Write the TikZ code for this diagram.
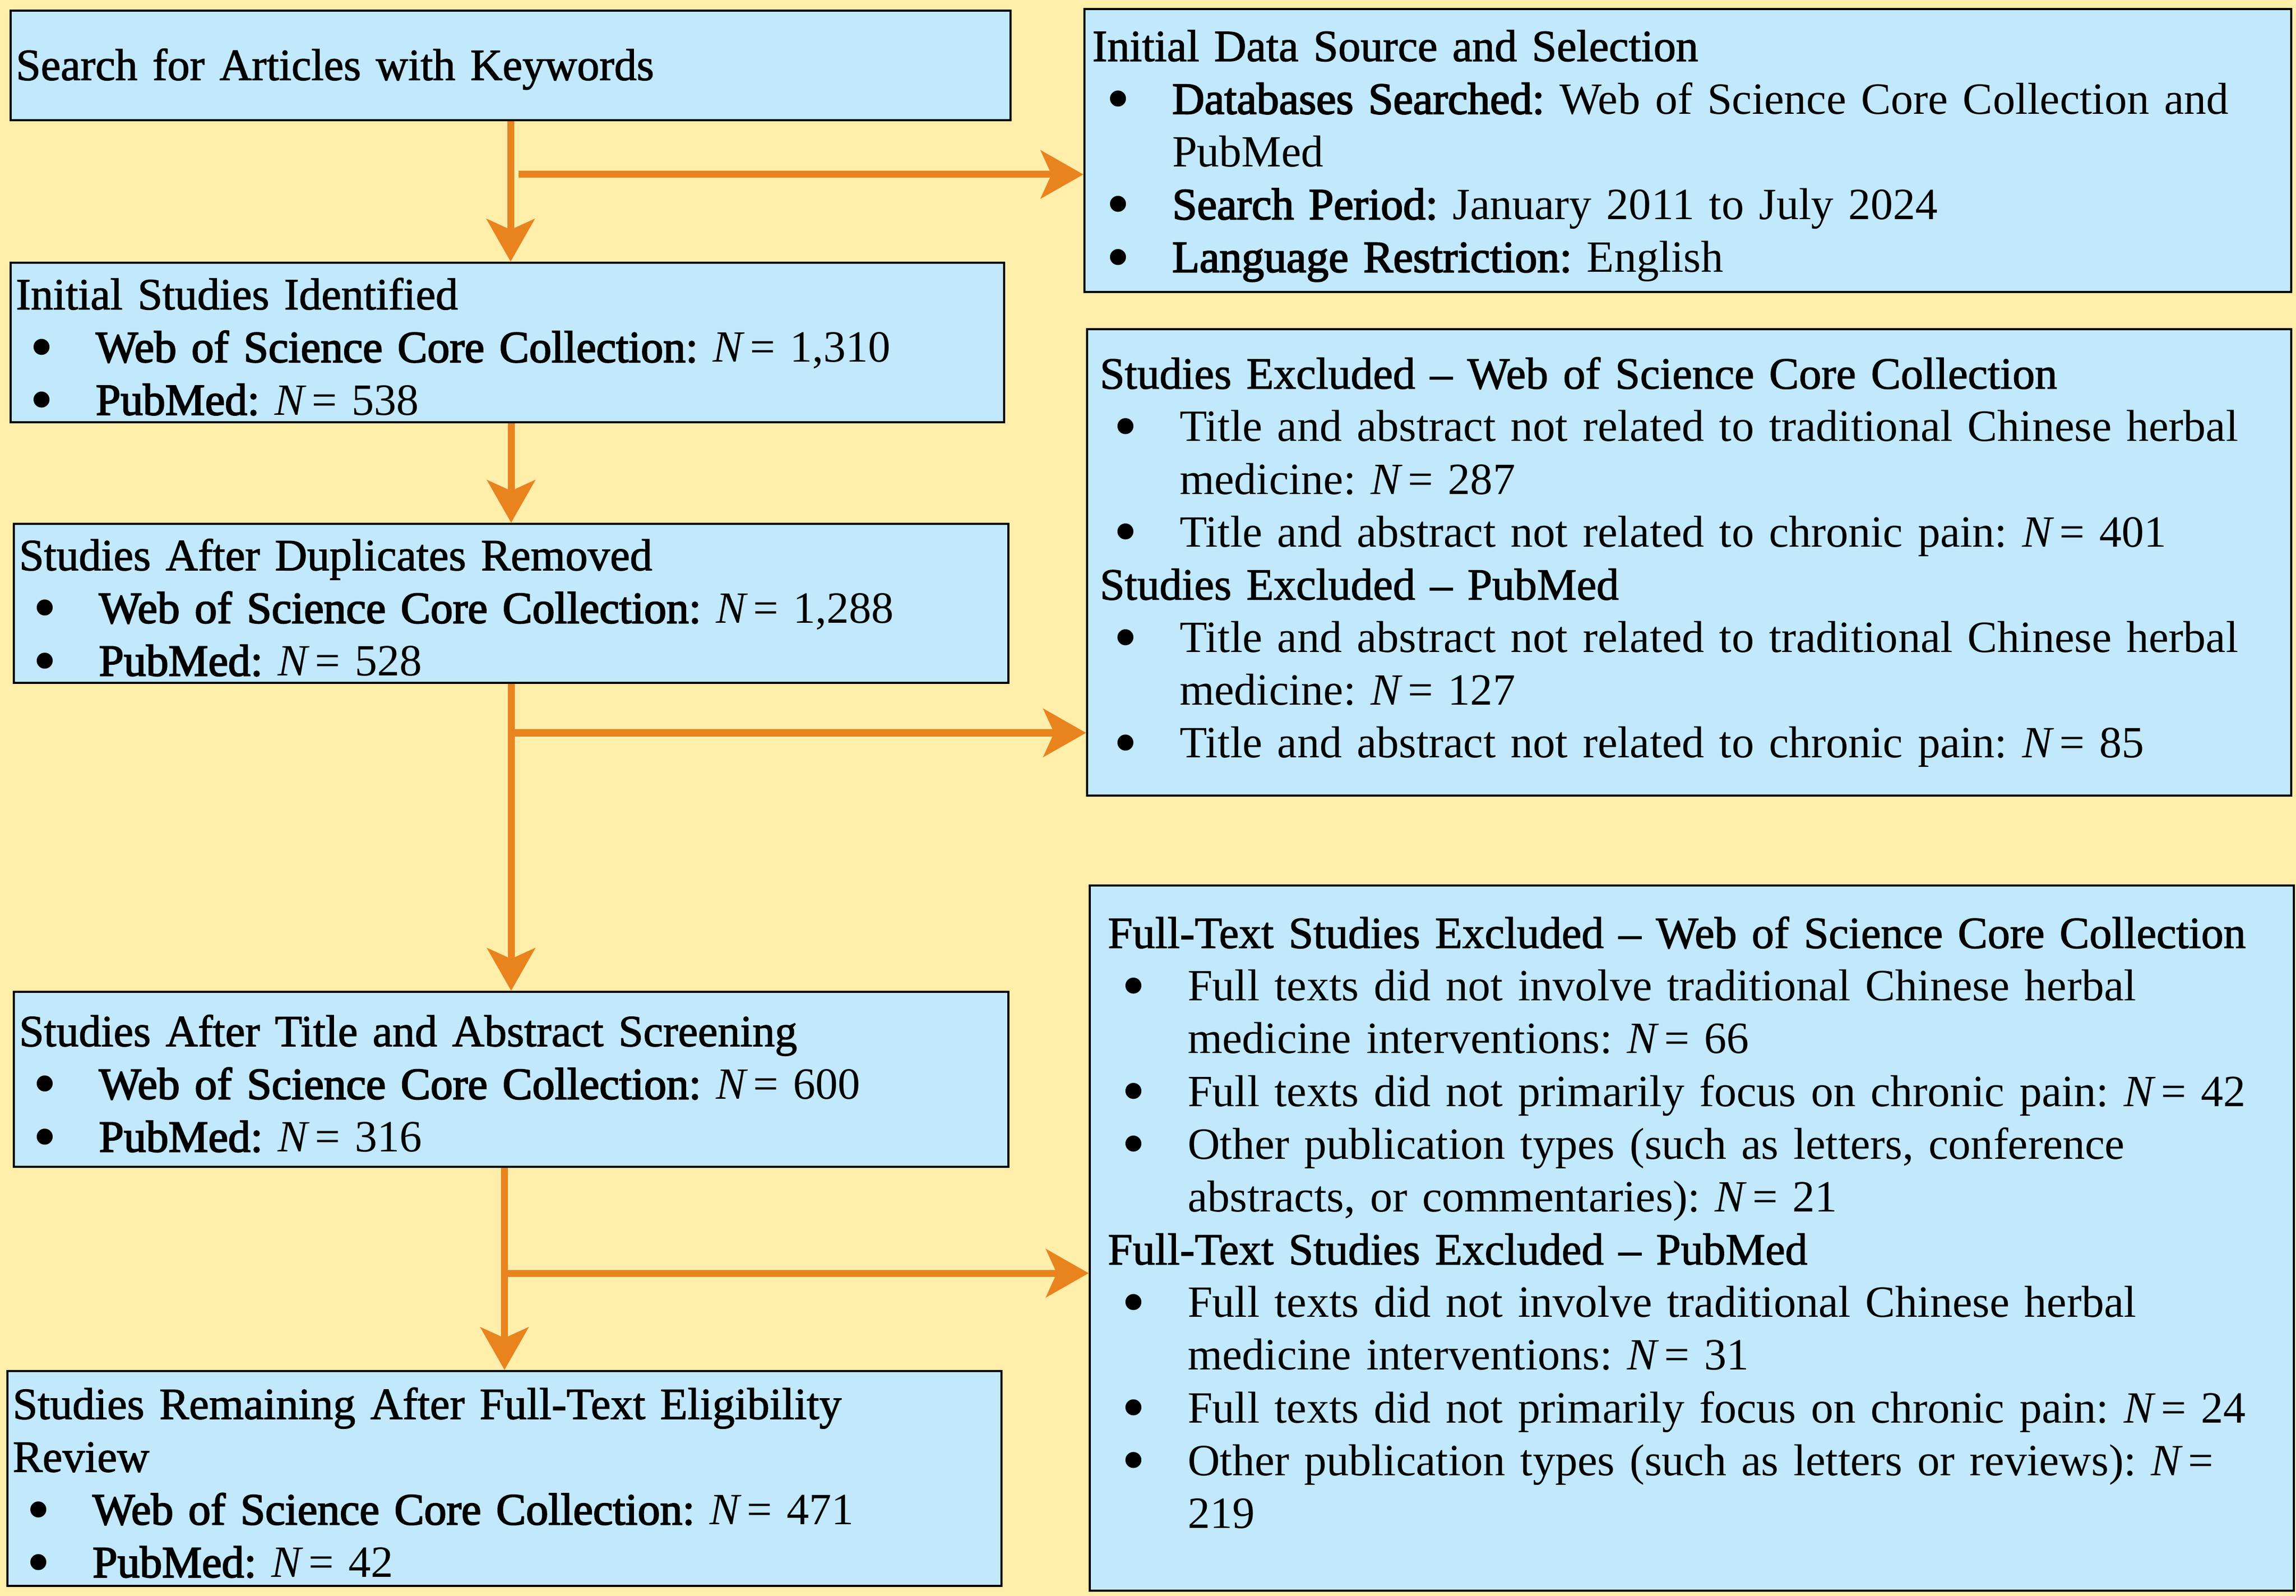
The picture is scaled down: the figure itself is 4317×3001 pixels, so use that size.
\documentclass[tikz,border=0pt]{standalone}
\usepackage{fontspec}
\usepackage{graphicx}
\setmainfont{Liberation Serif}
\newfontface\titleface{Liberation Serif}[FakeBold=1.5]
\newfontface\labelface{Liberation Serif}[FakeBold=2.5]
\usetikzlibrary{arrows.meta}

\definecolor{bgyellow}{RGB}{255,237,170}
\definecolor{boxblue}{RGB}{194,232,252}
\definecolor{flowor}{RGB}{232,131,30}

\newcommand{\ttl}[1]{\noindent{\titleface #1}\par}
\newcommand{\lbl}[1]{{\labelface #1}}
\newcommand{\bigdot}{\raisebox{-0.16em}{\scalebox{1.5}{\textbullet}}}
\newcommand{\itm}{\par\hangindent=1.5cm\hangafter=1\noindent\makebox[1.5cm][l]{\hspace{0.26cm}\bigdot}}
\newcommand{\NN}[1]{\textit{N}\hspace{0.12em}= #1}

\tikzset{
  box/.style={draw=black, line width=0.04cm, fill=boxblue, anchor=north west,
    align=left, inner xsep=0pt, inner ysep=0pt,
    font={\fontsize{23.9pt}{28.2pt}\selectfont\frenchspacing\hyphenpenalty=10000}},
  botpad/.style={execute at end node={\par\vspace*{#1}}},
  flow/.style={draw=flowor, line width=0.13cm,
    -{Stealth[length=0.8cm, width=0.9cm, inset=0.2cm]}},
}

\begin{document}
\begin{tikzpicture}[x=0.01cm, y=-0.01cm]
    \useasboundingbox (0,0) rectangle (4317,3001);
    \fill[bgyellow] (0,0) rectangle (4317,3001);

    % left column
    \node[box, botpad=-0.14cm, minimum width=18.79cm, minimum height=2.06cm, text width=18.59cm] (search) at (18,18)
      {\ttl{Search for Articles with Keywords}};
    \node[box, botpad=-0.28cm, minimum width=18.67cm, minimum height=3.00cm, text width=18.47cm] (initial) at (18,492)
      {\ttl{Initial Studies Identified}
       \itm \lbl{Web of Science Core Collection:} \NN{1,310}
       \itm \lbl{PubMed:} \NN{538}\par};
    \node[box, botpad=-0.28cm, minimum width=18.69cm, minimum height=2.99cm, text width=18.49cm] (dupl) at (24,983)
      {\ttl{Studies After Duplicates Removed}
       \itm \lbl{Web of Science Core Collection:} \NN{1,288}
       \itm \lbl{PubMed:} \NN{528}\par};
    \node[box, botpad=-0.28cm, minimum width=18.69cm, minimum height=3.29cm, text width=18.49cm] (screen) at (24,1863)
      {\ttl{Studies After Title and Abstract Screening}
       \itm \lbl{Web of Science Core Collection:} \NN{600}
       \itm \lbl{PubMed:} \NN{316}\par};
    \node[box, botpad=-0.28cm, minimum width=18.68cm, minimum height=4.04cm, text width=18.48cm] (remain) at (12,2576)
      {\ttl{Studies Remaining After Full-Text Eligibility\newline Review}
       \itm \lbl{Web of Science Core Collection:} \NN{471}
       \itm \lbl{PubMed:} \NN{42}\par};

    % right column
    \node[box, botpad=-0.2cm, minimum width=22.68cm, minimum height=5.32cm, text width=22.38cm] (datasrc) at (2037,15)
      {\ttl{Initial Data Source and Selection}
       \itm \lbl{Databases Searched:} Web of Science Core Collection and\newline PubMed
       \itm \lbl{Search Period:} January 2011 to July 2024
       \itm \lbl{Language Restriction:} English\par};
    \node[box, minimum width=22.63cm, minimum height=8.76cm, text width=22.15cm] (exclA) at (2042,617)
      {\ttl{Studies Excluded – Web of Science Core Collection}
       \itm Title and abstract not related to traditional Chinese herbal\newline medicine: \NN{287}
       \itm Title and abstract not related to chronic pain: \NN{401}
       \par\ttl{Studies Excluded – PubMed}
       \itm Title and abstract not related to traditional Chinese herbal\newline medicine: \NN{127}
       \itm Title and abstract not related to chronic pain: \NN{85}\par};
    \node[box, botpad=0.58cm, minimum width=22.63cm, minimum height=13.25cm, text width=21.95cm] (exclB) at (2047,1663)
      {\ttl{Full-Text Studies Excluded – Web of Science Core Collection}
       \itm Full texts did not involve traditional Chinese herbal\newline medicine interventions: \NN{66}
       \itm Full texts did not primarily focus on chronic pain: \NN{42}
       \itm Other publication types (such as letters, conference\newline abstracts, or commentaries): \NN{21}
       \par\ttl{Full-Text Studies Excluded – PubMed}
       \itm Full texts did not involve traditional Chinese herbal\newline medicine interventions: \NN{31}
       \itm Full texts did not primarily focus on chronic pain: \NN{24}
       \itm Other publication types (such as letters or reviews): \textit{N}\hspace{0.12em}=\newline 219\par};

    % flow arrows
    \coordinate (j1) at (975,328);
    \coordinate (j3) at (958.5,1378);
    \coordinate (j4) at (946,2394);
    \draw[flow] (search.south) -- (search.south |- initial.north);
    \draw[flow] (j1) -- (j1 -| datasrc.west);
    \draw[flow] (initial.south -| dupl.north) -- (dupl.north);
    \draw[flow] (dupl.south) -- (screen.north);
    \draw[flow] (j3) -- (j3 -| exclA.west);
    \draw[flow] (screen.south -| remain.north) -- (remain.north);
    \draw[flow] (j4) -- (j4 -| exclB.west);
\end{tikzpicture}
\end{document}
